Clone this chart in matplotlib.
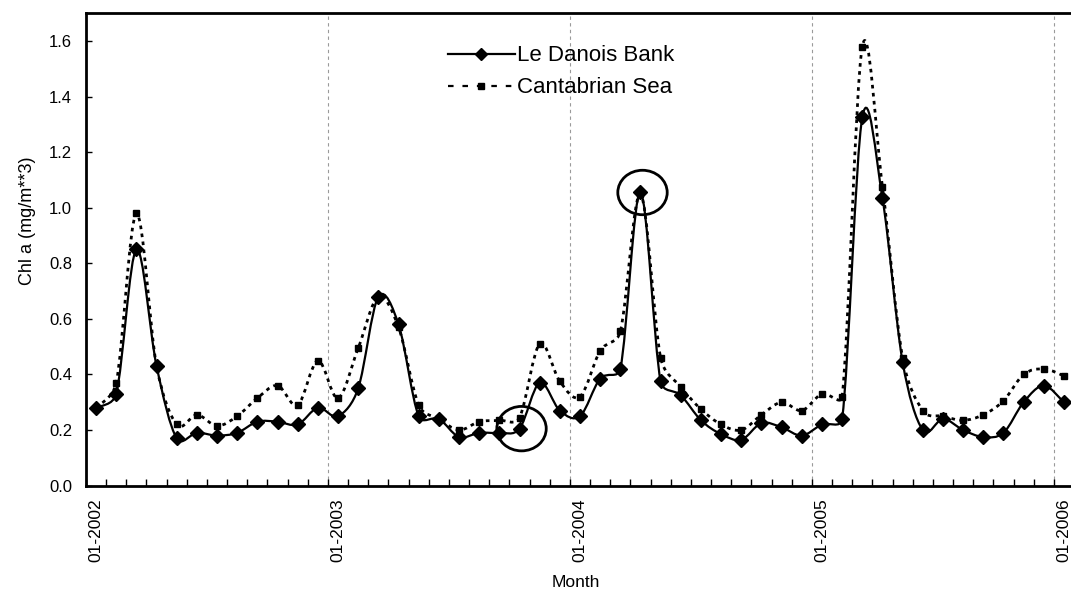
import numpy as np
import matplotlib
matplotlib.use("Agg")
import matplotlib.pyplot as plt
from matplotlib.path import Path
from matplotlib.patches import PathPatch, Ellipse
from matplotlib.lines import Line2D

plt.rcParams['font.family'] = ['Liberation Sans', 'DejaVu Sans']

# monthly chlorophyll a, Jan 2002 .. Jan 2006
danois = [0.28, 0.33, 0.85, 0.43, 0.17, 0.19, 0.18, 0.19, 0.23, 0.23, 0.22, 0.28,
          0.25, 0.35, 0.68, 0.58, 0.25, 0.24, 0.175, 0.19, 0.19, 0.205, 0.37, 0.27,
          0.25, 0.385, 0.42, 1.055, 0.375, 0.325, 0.235, 0.185, 0.165, 0.225, 0.21, 0.18,
          0.22, 0.24, 1.325, 1.035, 0.445, 0.20, 0.24, 0.20, 0.175, 0.19, 0.30, 0.36,
          0.30]
cantabrian = [0.28, 0.37, 0.98, 0.43, 0.22, 0.255, 0.215, 0.25, 0.315, 0.36, 0.29, 0.45,
              0.315, 0.495, 0.68, 0.57, 0.29, 0.24, 0.20, 0.23, 0.235, 0.245, 0.51, 0.375,
              0.32, 0.485, 0.555, 1.05, 0.46, 0.355, 0.275, 0.22, 0.20, 0.255, 0.30, 0.27,
              0.33, 0.32, 1.58, 1.075, 0.46, 0.27, 0.25, 0.235, 0.255, 0.305, 0.40, 0.42,
              0.395]
year_labels = ["01-2002", "01-2003", "01-2004", "01-2005", "01-2006"]
# circled months (index into the series)
circled = [21, 27]


def smooth_path(ax, x, y):
    # spreadsheet-style smoothed line: bezier handles of 1/6 of the
    # neighbour chord, capped at half the segment, worked out in pixels
    trans = ax.transData
    pts = trans.transform(np.column_stack([x, y]))
    n = len(pts)
    verts = [pts[0]]
    codes = [Path.MOVETO]
    for i in range(n - 1):
        p0 = pts[max(i - 1, 0)]
        p1 = pts[i]
        p2 = pts[i + 1]
        p3 = pts[min(i + 2, n - 1)]
        d12 = np.hypot(*(p2 - p1))
        d02 = np.hypot(*(p2 - p0))
        d13 = np.hypot(*(p3 - p1))
        f1 = 1 / 6 if d02 / 6 < d12 / 2 else d12 / (2 * d02)
        f2 = 1 / 6 if d13 / 6 < d12 / 2 else d12 / (2 * d13)
        verts += [p1 + (p2 - p0) * f1, p2 - (p3 - p1) * f2, p2]
        codes += [Path.CURVE4] * 3
    verts = trans.inverted().transform(np.array(verts))
    return Path(verts, codes)


x = np.arange(len(danois)) + 0.5

fig = plt.figure(figsize=(10.71, 5.94), dpi=100)
ax = fig.add_axes([0.0803, 0.1825, 0.9225, 0.7951])
ax.set_xlim(0, 49)
ax.set_ylim(0, 1.7)

# year separators
for yr in range(12, len(danois), 12):
    ax.axvline(yr, color="#9a9a9a", lw=0.8, ls=(0, (3, 3)), zorder=0)

ax.add_patch(PathPatch(smooth_path(ax, x, cantabrian), fill=False, ec="black",
                       lw=2.0, ls=(0, (1.3, 1.6)), capstyle="butt", zorder=2))
ax.plot(x, cantabrian, ls="none", marker="s", ms=4.5, color="black", zorder=3)

ax.add_patch(PathPatch(smooth_path(ax, x, danois), fill=False, ec="black",
                       lw=1.6, zorder=4))
ax.plot(x, danois, ls="none", marker="D", ms=7.5, color="black", zorder=5)

for i in circled:
    ax.add_patch(Ellipse((x[i] + 0.1, danois[i]), 2.45, 0.16, fill=False,
                         ec="black", lw=2.0, zorder=6))

ax.set_xticks(x[::12])
ax.set_xticklabels(year_labels, rotation=90)
ax.set_xticks(np.arange(0, 50), minor=True)
ax.tick_params(axis="x", which="major", length=0, pad=9, labelsize=12.5)
ax.tick_params(axis="x", which="minor", direction="in", length=5, width=1)

ax.set_yticks(np.arange(0, 1.61, 0.2))
ax.set_yticklabels([f"{v:.1f}" for v in np.arange(0, 1.61, 0.2)])
ax.tick_params(axis="y", direction="in", length=4, width=1, pad=10, labelsize=12)

for side in ["top", "left", "bottom"]:
    ax.spines[side].set_linewidth(2.0)
ax.spines["right"].set_visible(False)

ax.set_xlabel("Month", fontsize=12.5)
ax.xaxis.set_label_coords(0.496, -0.19)
ax.set_ylabel("Chl a (mg/m**3)", fontsize=13)
ax.yaxis.set_label_coords(-0.051, 0.56)

handles = [
    Line2D([], [], color="black", lw=1.6, marker="D", ms=6.5),
    Line2D([], [], color="black", lw=1.6, ls=(0, (2.5, 4)), marker="s", ms=4),
]
ax.legend(handles, ["Le Danois Bank", "Cantabrian Sea"], loc="center",
          bbox_to_anchor=(0.524, 0.879), bbox_transform=fig.transFigure,
          frameon=False, fontsize=16, handlelength=3.0, handletextpad=0.1,
          labelspacing=0.5, numpoints=1)

fig.savefig("out.png", dpi=100)
